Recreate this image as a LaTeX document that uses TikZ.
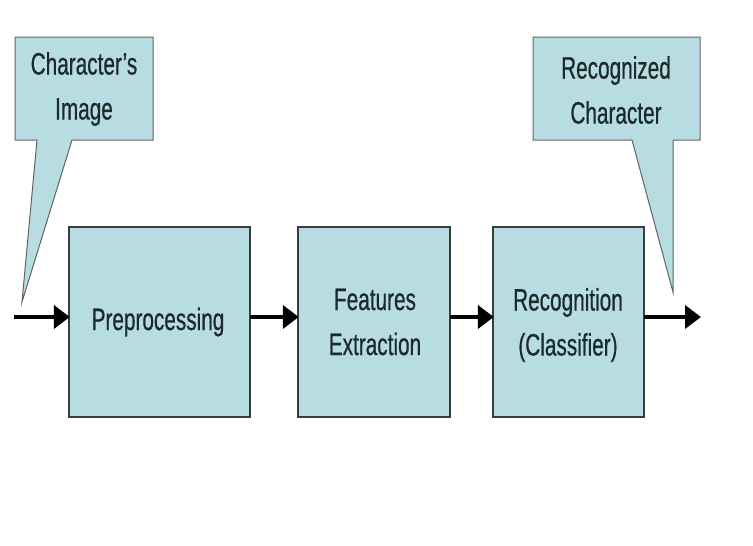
\documentclass[tikz,border=0pt]{standalone}
\usepackage{fontspec}
\setmainfont[FakeStretch=0.67,FakeBold=0.6]{Liberation Sans}
\usetikzlibrary{arrows.meta}
\definecolor{boxfill}{HTML}{B7DDE3}
\definecolor{boxline}{HTML}{3C3C3C}
\definecolor{txt}{HTML}{1C2A2C}
\tikzset{
  blk/.style={draw=boxline, line width=1.4pt, fill=boxfill},
  lbl/.style={text=txt, align=center, font=\fontsize{31}{45}\selectfont, inner sep=0pt},
  callshape/.style={draw=boxline!80, line width=1pt, fill=boxfill, line join=miter},
  flow/.style={line width=4.6pt, -{Triangle[length=16pt,width=23pt]}, shorten >=-1pt}
}
\begin{document}
\begin{tikzpicture}[x=1pt,y=-1pt]
\useasboundingbox (0,0) rectangle (753,546);
\fill[white] (0,0) rectangle (753,546);
% blocks
\draw[blk] (69,227) rectangle (250,417);
\draw[blk] (298,227) rectangle (450,417);
\draw[blk] (493,227) rectangle (644,417);
\node[lbl, minimum width=181pt, minimum height=190pt] (pre) at (159.5,322) {};
\node[lbl, minimum width=152pt, minimum height=190pt] (feat) at (374,322) {};
\node[lbl, minimum width=151pt, minimum height=190pt] (rec) at (568.5,322) {};
\node[lbl] (pretext) at (158,322) {Preprocessing};
\node[lbl] (feattext) at (375,322) {Features\\Extraction};
\node[lbl] (rectext) at (568,325) {Recognition\\(Classifier)};
% callouts
\draw[callshape] (15,37) -- (153,37) -- (153,140) -- (72,140) -- (22,302) -- (37,140) -- (15,140) -- cycle;
\draw[callshape] (533,37) -- (700,37) -- (700,140) -- (673,140) -- (673,292) -- (632,140) -- (533,140) -- cycle;
\node[lbl] (cin) at (84,89) {Character's\\Image};
\node[lbl] (cout) at (616,90) {Recognized\\Character};
% flow
\coordinate (in) at (14,317);
\coordinate (out) at (700,317);
\draw[flow] (in) -- (pre.west |- in);
\draw[flow] (pre.east |- in) -- (feat.west |- in);
\draw[flow] (feat.east |- in) -- (rec.west |- in);
\draw[flow] (rec.east |- in) -- (out);
\end{tikzpicture}
\end{document}
